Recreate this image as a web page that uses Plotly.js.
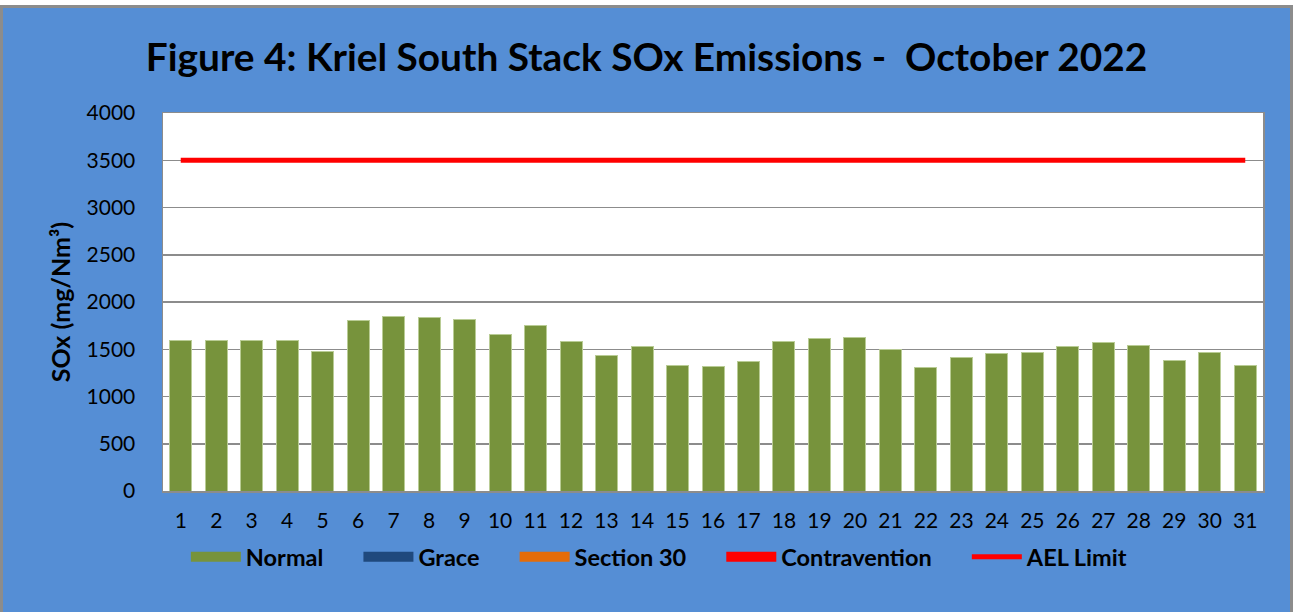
<!DOCTYPE html>
<html>
<head>
<meta charset="utf-8">
<script src="https://cdn.plot.ly/plotly-3.0.1.min.js"></script>
<style>
  html, body { margin: 0; padding: 0; background: #ffffff; width: 1300px; height: 612px; overflow: hidden; }
  #chart { position: absolute; left: 0px; top: 5px; width: 1287px; height: 604px;
           border-left: 3px solid #8c8c8c; border-top: 3px solid #8c8c8c; border-right: 3px solid #8c8c8c; }
</style>
</head>
<body>
<div id="chart"></div>
<script>
const days = ["1","2","3","4","5","6","7","8","9","10","11","12","13","14","15","16","17","18","19","20","21","22","23","24","25","26","27","28","29","30","31"];
const normal = [1590,1590,1590,1590,1475,1807,1850,1832,1813,1657,1752,1587,1437,1533,1324,1317,1367,1579,1614,1628,1495,1303,1416,1455,1469,1529,1568,1536,1384,1469,1324];
const grace = [0,0,0,0,0,0,0,0,0,0,0,0,0,0,0,0,0,0,0,0,0,0,0,0,0,0,0,0,0,0,0];
const section30 = [0,0,0,0,0,0,0,0,0,0,0,0,0,0,0,0,0,0,0,0,0,0,0,0,0,0,0,0,0,0,0];
const contravention = [0,0,0,0,0,0,0,0,0,0,0,0,0,0,0,0,0,0,0,0,0,0,0,0,0,0,0,0,0,0,0];
const aelLimit = [3500,3500,3500,3500,3500,3500,3500,3500,3500,3500,3500,3500,3500,3500,3500,3500,3500,3500,3500,3500,3500,3500,3500,3500,3500,3500,3500,3500,3500,3500,3500];
const yTicks = [0,500,1000,1500,2000,2500,3000,3500,4000];
const seriesNames = ["Normal", "Grace", "Section 30", "Contravention", "AEL Limit"];

const colors = { normal: "#77933C", grace: "#1F497D", section30: "#E46C0A", contravention: "#FF0000", ael: "#FF0000" };
const pad = "&nbsp;&nbsp;&nbsp;&nbsp;&nbsp;";
const legendName = (s, last) => "<b>" + s + "</b>" + (last ? "" : pad);

const traces = [
  { type: "bar", name: seriesNames[0], x: days, y: normal, marker: { color: colors.normal, line: { color: "#B9CC95", width: 1 } }, showlegend: false, legendgroup: "n" },
  { type: "bar", name: seriesNames[1], x: days, y: grace, marker: { color: colors.grace, line: { width: 0 } }, showlegend: false, legendgroup: "g" },
  { type: "bar", name: seriesNames[2], x: days, y: section30, marker: { color: colors.section30, line: { width: 0 } }, showlegend: false, legendgroup: "s" },
  { type: "bar", name: seriesNames[3], x: days, y: contravention, marker: { color: colors.contravention, line: { width: 0 } }, showlegend: false, legendgroup: "c" },
  { type: "scatter", mode: "lines", name: seriesNames[4], x: days, y: aelLimit, line: { color: colors.ael, width: 5 }, showlegend: false, legendgroup: "a" },
  // legend entries
  { type: "scatter", mode: "lines", name: legendName(seriesNames[0]), x: [null], y: [null], line: { color: colors.normal, width: 16 }, legendgroup: "n" },
  { type: "scatter", mode: "lines", name: legendName(seriesNames[1]), x: [null], y: [null], line: { color: colors.grace, width: 16 }, legendgroup: "g" },
  { type: "scatter", mode: "lines", name: legendName(seriesNames[2]), x: [null], y: [null], line: { color: colors.section30, width: 16 }, legendgroup: "s" },
  { type: "scatter", mode: "lines", name: legendName(seriesNames[3]), x: [null], y: [null], line: { color: colors.contravention, width: 16 }, legendgroup: "c" },
  { type: "scatter", mode: "lines", name: legendName(seriesNames[4], true), x: [null], y: [null], line: { color: colors.ael, width: 5 }, legendgroup: "a" }
];

const layout = {
  width: 1287, height: 604,
  paper_bgcolor: "#558ED5",
  plot_bgcolor: "#ffffff",
  margin: { l: 160, r: 27, t: 105, b: 121 },
  barmode: "stack",
  bargap: 0.38,
  font: { family: "Lato, 'Open Sans', sans-serif", color: "#000000", size: 21 },
  title: {
    text: "<b>Figure 4: Kriel South Stack SOx Emissions -  October 2022</b>",
    font: { family: "Lato, 'Open Sans', sans-serif", size: 38.8, color: "#000000" },
    x: 0.5, xanchor: "center", y: 1 - 49/604, yanchor: "middle", yref: "container"
  },
  xaxis: {
    type: "category",
    range: [-0.5, 30.5],
    showgrid: false,
    showline: true, linecolor: "#8c8c8c", linewidth: 1.5, mirror: true,
    ticks: "", ticklabelstandoff: 10,
    tickfont: { size: 21 },
    fixedrange: true
  },
  yaxis: {
    range: [0, 4000],
    tickvals: yTicks,
    ticktext: yTicks.map(String),
    showgrid: true, gridcolor: "#8c8c8c", gridwidth: 1.5,
    showline: true, linecolor: "#8c8c8c", linewidth: 1.5, mirror: true,
    zeroline: false,
    ticks: "", ticklabelstandoff: 22,
    tickfont: { size: 21 },
    title: { text: "<b>SOx (mg/Nm³)</b>", font: { size: 25 }, standoff: 9 },
    fixedrange: true
  },
  legend: {
    orientation: "h",
    x: 0.51, xanchor: "center", xref: "container",
    y: 1 - 549/604, yanchor: "middle", yref: "container",
    font: { size: 23.5, family: "Lato, 'Open Sans', sans-serif" },
    bgcolor: "rgba(0,0,0,0)",
    itemwidth: 50,
    traceorder: "normal"
  },
  showlegend: true
};

Plotly.newPlot("chart", traces, layout, { displayModeBar: false, staticPlot: true });
</script>
</body>
</html>
